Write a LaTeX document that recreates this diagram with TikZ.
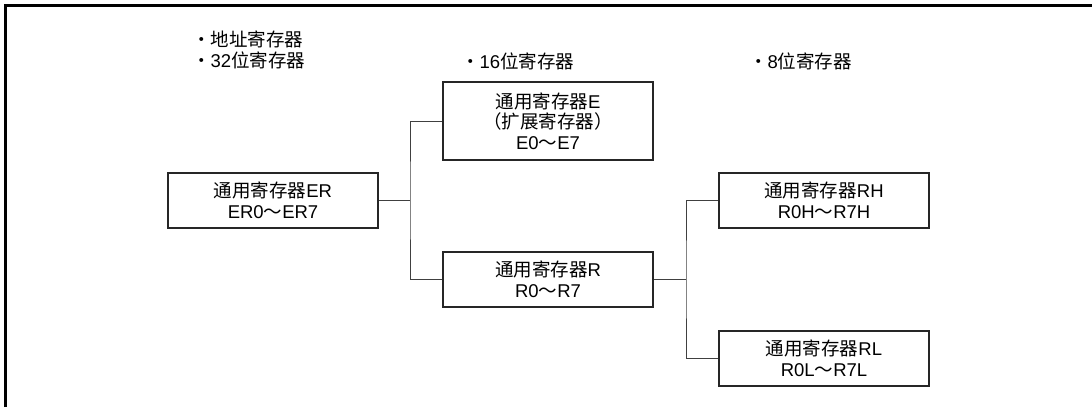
\documentclass[tikz,border=0pt]{standalone}
\usepackage{fontspec}
\setmainfont{Liberation Sans}
\newfontfamily\cjk{Noto Sans CJK SC}
\newcommand{\zh}[1]{{\cjk #1}}

\begin{document}
\begin{tikzpicture}[x=1pt,y=-1pt,
    regbox/.style={draw=black!85,line width=2.6pt,fill=white,minimum width=210pt,
      minimum height=55pt,align=center,inner sep=0pt,
      font=\fontsize{18.5}{20.5}\selectfont},
    heading/.style={anchor=west,align=left,inner sep=0pt,
      font=\fontsize{18.5}{21.5}\selectfont},
    link/.style={draw=black!75,line width=1pt}]
    \useasboundingbox (0,0) rectangle (1092,407);
    % frame (top and left edge only)
    \draw [line width=3pt] (5,407) -- (5,5) -- (1092,5);
    % headings
    \node [heading] (h32) at (192,50) {\zh{・地址寄存器}\\\zh{・}32\zh{位寄存器}};
    \node [heading] (h16) at (461,61) {\zh{・}16\zh{位寄存器}};
    \node [heading] (h8) at (749,61) {\zh{・}8\zh{位寄存器}};
    % registers
    \node [regbox] (er) at (273,200.5) {\zh{通用寄存器}ER\\ER0\zh{～}ER7};
    \node [regbox,minimum height=78pt] (e) at (548,121) {\zh{通用寄存器}E\\\zh{（扩展寄存器）}\\E0\zh{～}E7};
    \node [regbox] (r) at (548,279.5) {\zh{通用寄存器}R\\R0\zh{～}R7};
    \node [regbox] (rh) at (824,200.5) {\zh{通用寄存器}RH\\R0H\zh{～}R7H};
    \node [regbox] (rl) at (824,358.5) {\zh{通用寄存器}RL\\R0L\zh{～}R7L};
    % connectors
    \coordinate (j32) at (410,200.5);
    \coordinate (j16) at (686,279.5);
    \draw [link] (er.east) -- (j32);
    \draw [link] (e.west) -| (j32) |- (r.west);
    \draw [link] (r.east) -- (j16);
    \draw [link] (rh.west) -| (j16) |- (rl.west);
\end{tikzpicture}
\end{document}
